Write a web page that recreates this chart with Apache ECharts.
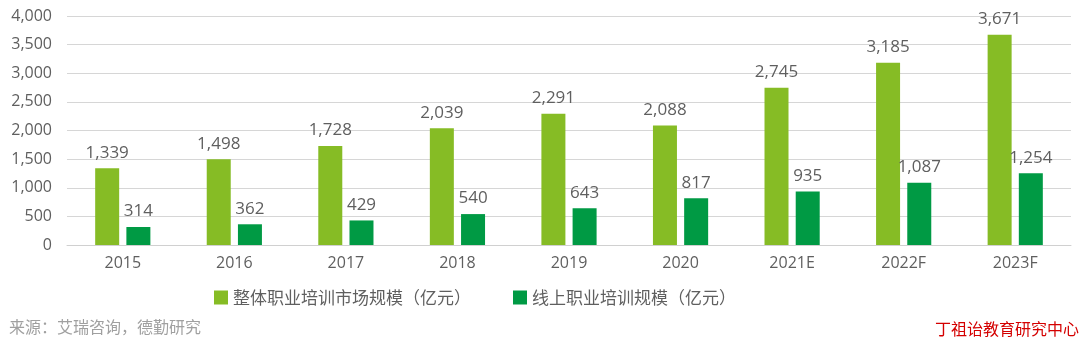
<!DOCTYPE html>
<html><head><meta charset="utf-8">
<script src="https://cdn.jsdelivr.net/npm/echarts@6/dist/echarts.min.js"></script>
<style>html,body{margin:0;padding:0;background:#fff}#c{width:1080px;height:341px}</style>
</head><body><div id="c"></div>
<script>
const categories = ['2015','2016','2017','2018','2019','2020','2021E','2022F','2023F'];
const overallMarket = [1339,1498,1728,2039,2291,2088,2745,3185,3671];
const onlineMarket = [314,362,429,540,643,817,935,1087,1254];
const seriesNames = ['整体职业培训市场规模（亿元）','线上职业培训规模（亿元）'];
const yTicks = {min:0,max:4000,interval:500};
const sourceText = '来源：艾瑞咨询，德勤研究';
const watermark = '丁祖诒教育研究中心';

const font = '"Open Sans","Noto Sans CJK SC",sans-serif';
const chart = echarts.init(document.getElementById('c'));
const labelCfg = {show:true,position:'top',color:'#5f5f5f',fontSize:17,fontFamily:font,distance:7,
  formatter:p=>p.value.toLocaleString('en-US')};
chart.setOption({
  animation:false,
  textStyle:{fontFamily:font},
  grid:{left:67,right:9,top:16,bottom:96},
  legend:{top:284,left:209,itemWidth:14,itemHeight:14,itemGap:42,icon:'rect',
    textStyle:{color:'#5f5f5f',fontSize:17,fontFamily:'"Noto Sans CJK SC",sans-serif'},
    data:seriesNames},
  xAxis:{type:'category',data:categories,
    axisLine:{lineStyle:{color:'#d0d0d0'}},axisTick:{show:false},
    axisLabel:{color:'#5f5f5f',fontSize:16,margin:10,fontFamily:font}},
  yAxis:{type:'value',min:yTicks.min,max:yTicks.max,interval:yTicks.interval,
    axisLabel:{color:'#5f5f5f',fontSize:16,margin:15,fontFamily:font,
      formatter:v=>v.toLocaleString('en-US')},
    splitLine:{lineStyle:{color:'#d6d6d6'}}},
  series:[
    {name:seriesNames[0],type:'bar',data:overallMarket,barWidth:24,barGap:'30%',
     itemStyle:{color:'#86bc25'},label:labelCfg},
    {name:seriesNames[1],type:'bar',data:onlineMarket,barWidth:24,
     itemStyle:{color:'#009a44'},label:labelCfg}
  ],
  graphic:[
    {type:'text',left:9,top:319,style:{text:sourceText,fill:'#a0a0a0',fontSize:16,fontFamily:'"Noto Sans CJK SC",sans-serif'}},
    {type:'text',left:935,top:321,style:{text:watermark,fill:'#d40000',fontSize:16,fontFamily:'"Noto Sans CJK SC",sans-serif'}}
  ]
});
</script></body></html>
